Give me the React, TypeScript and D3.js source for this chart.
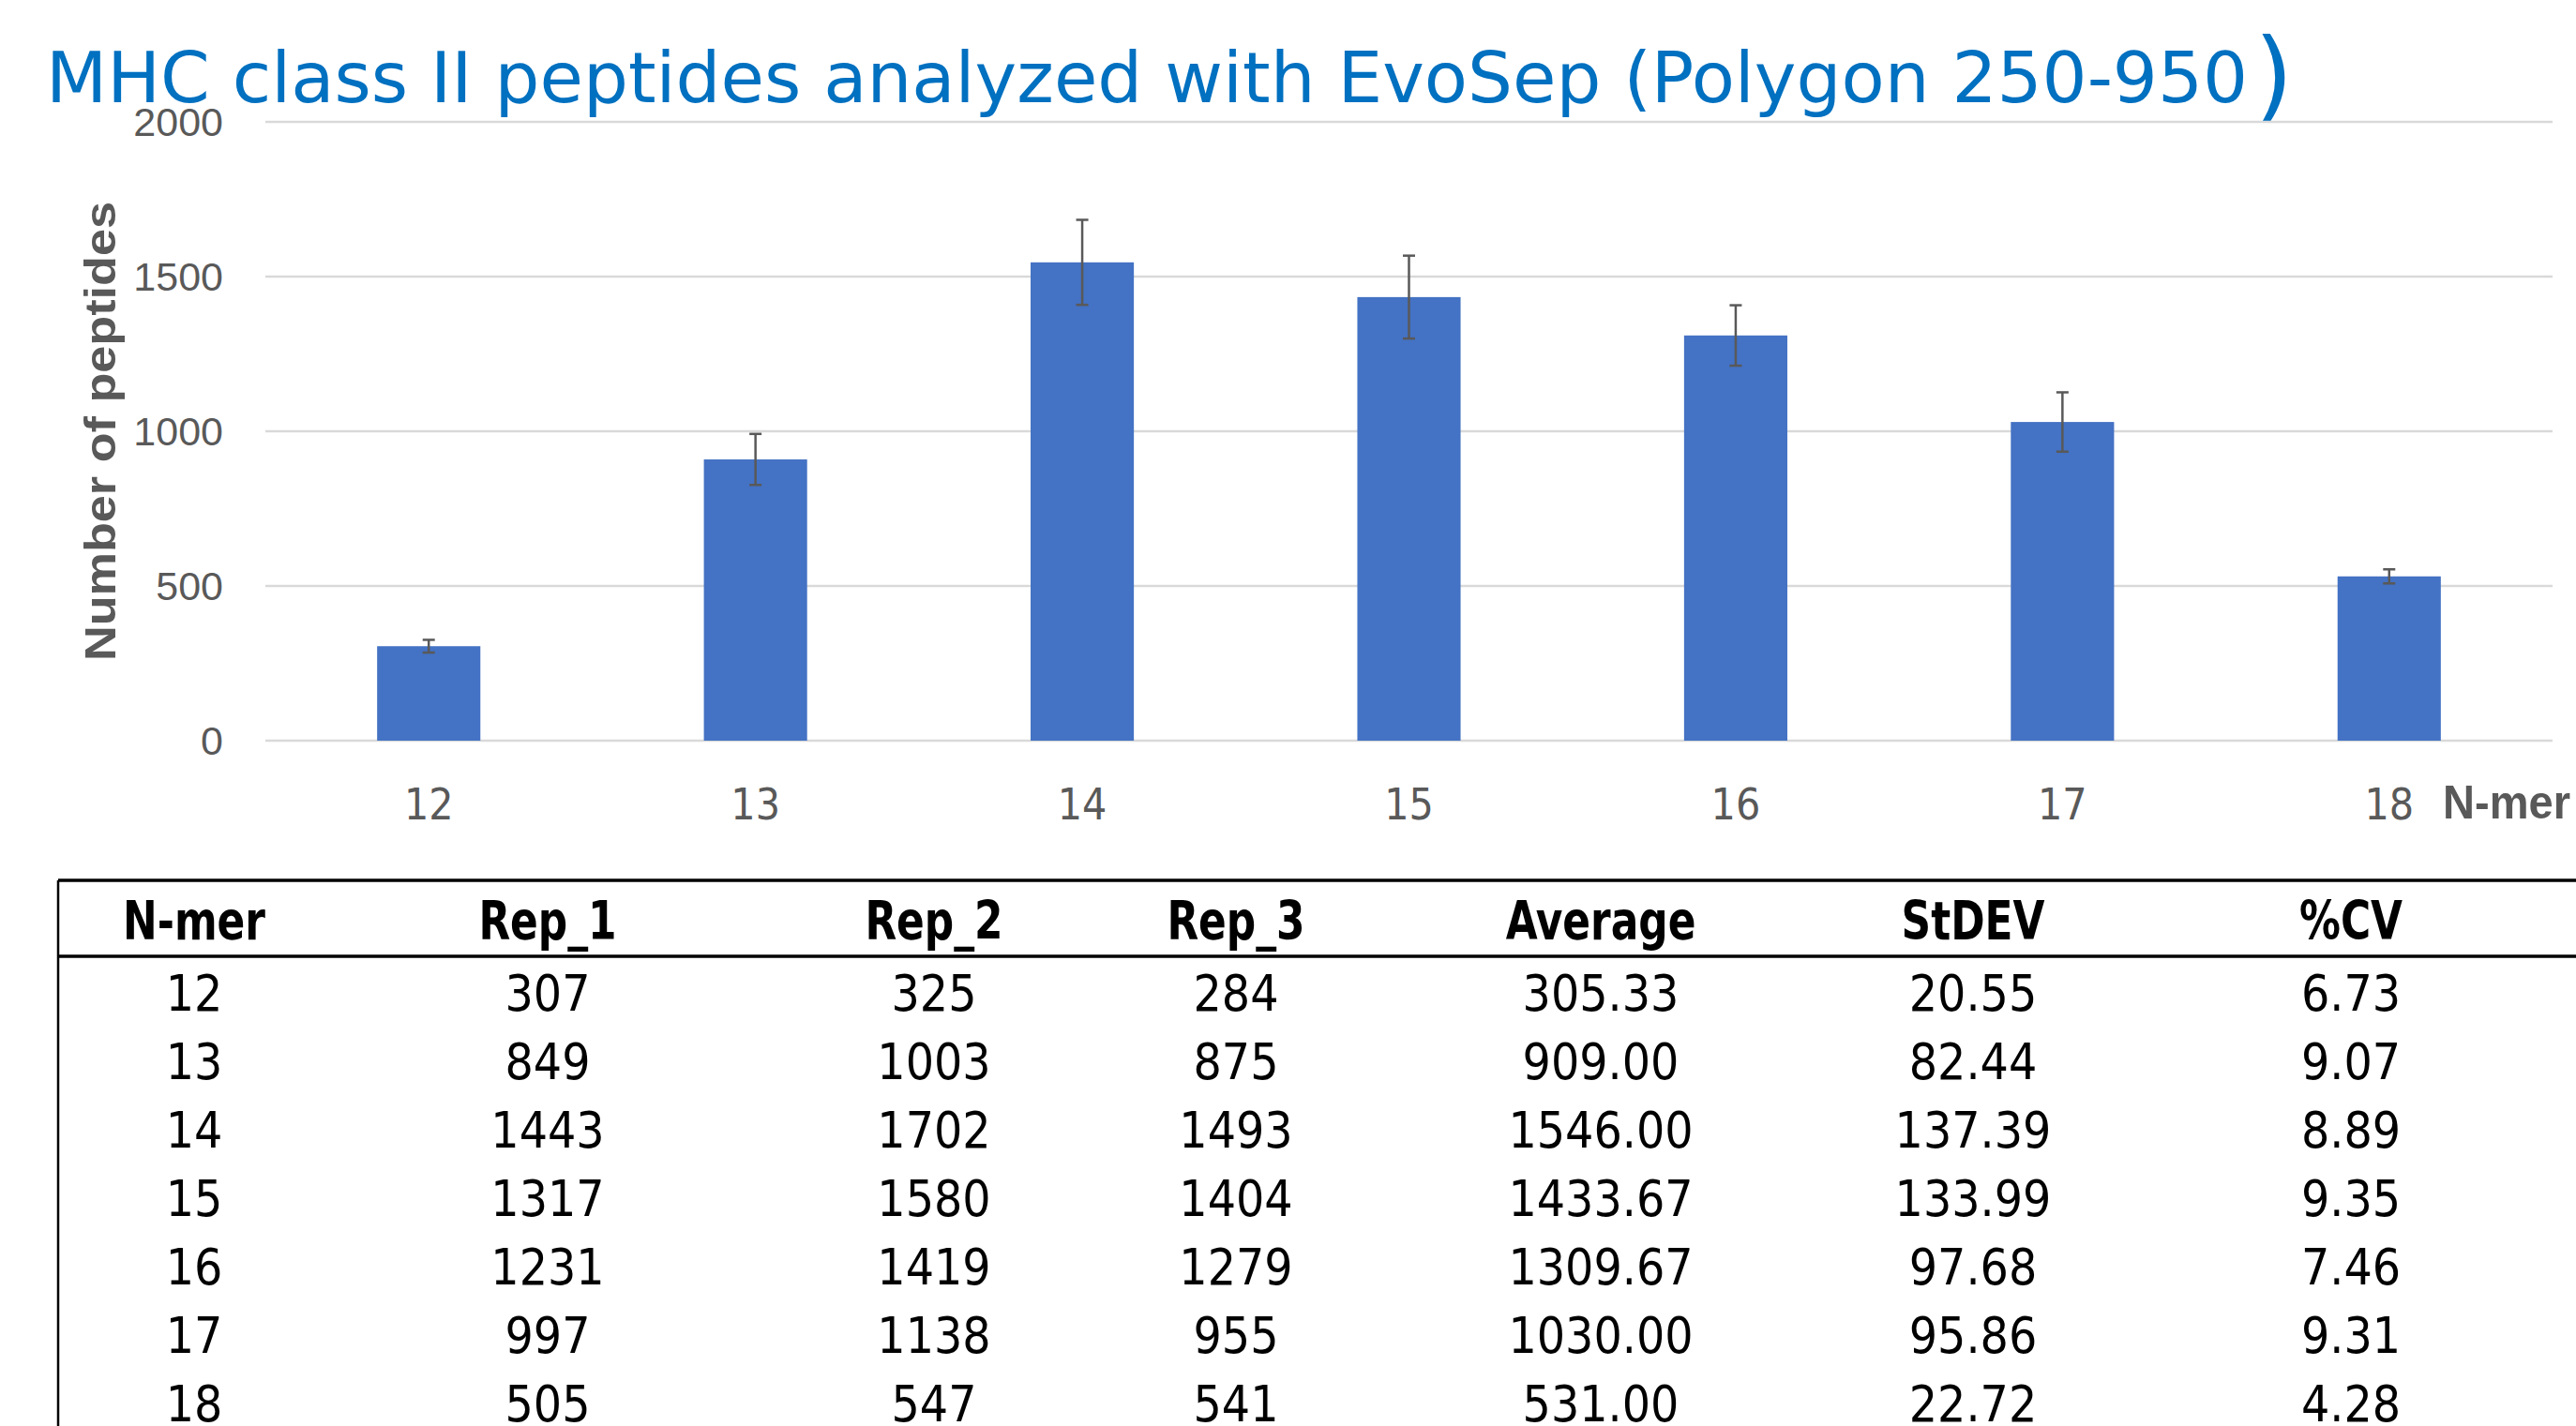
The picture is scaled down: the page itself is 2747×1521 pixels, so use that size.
import React, { useRef, useEffect } from "react";
import * as d3 from "d3";

// chart data
const nmers = ["12", "13", "14", "15", "16", "17", "18"];
const rep1 = [307, 849, 1443, 1317, 1231, 997, 505];
const rep2 = [325, 1003, 1702, 1580, 1419, 1138, 547];
const rep3 = [284, 875, 1493, 1404, 1279, 955, 541];
const average = [305.33, 909.0, 1546.0, 1433.67, 1309.67, 1030.0, 531.0];
const stdev = [20.55, 82.44, 137.39, 133.99, 97.68, 95.86, 22.72];
const cv = [6.73, 9.07, 8.89, 9.35, 7.46, 9.31, 4.28];
const yTicks = [0, 500, 1000, 1500, 2000];
const tableHeaders = ["N-mer", "Rep_1", "Rep_2", "Rep_3", "Average", "StDEV", "%CV"];

const NARROW = "'Liberation Sans Narrow', 'DejaVu Sans Condensed', 'Arial Narrow', sans-serif";
const SANS = "'Liberation Sans', Arial, sans-serif";

const App: React.FC = () => {
  const svgRef = useRef<SVGSVGElement>(null);

  useEffect(() => {
    if (!svgRef.current) return;

    const width = 2747;
    const height = 1521;
    const plot = { left: 283, right: 2722, top: 130, bottom: 790 };

    const svg = d3.select(svgRef.current).attr("width", width).attr("height", height);
    svg.selectAll("*").remove();

    svg.append("rect").attr("width", width).attr("height", height).attr("fill", "#ffffff");

    // title
    svg
      .append("text")
      .attr("x", 49)
      .attr("y", 109)
      .attr("font-family", "'DejaVu Sans', Verdana, sans-serif")
      .attr("font-size", 74)
      .attr("fill", "#0070C0")
      .attr("textLength", 2348)
      .attr("lengthAdjust", "spacingAndGlyphs")
      .text("MHC class II peptides analyzed with EvoSep (Polygon 250-950");
    svg
      .append("text")
      .attr("x", 2404)
      .attr("y", 116)
      .attr("font-family", "'DejaVu Sans', Verdana, sans-serif")
      .attr("font-size", 106)
      .attr("fill", "#0070C0")
      .text(")");

    // scales
    const x = d3
      .scaleBand<string>()
      .domain(nmers)
      .range([plot.left, plot.right])
      .paddingInner(0.684)
      .paddingOuter(0.342);
    const y = d3.scaleLinear().domain([0, 2000]).range([plot.bottom, plot.top]);

    // gridlines
    svg
      .append("g")
      .selectAll("line")
      .data(yTicks)
      .enter()
      .append("line")
      .attr("x1", plot.left)
      .attr("x2", plot.right)
      .attr("y1", (d) => y(d))
      .attr("y2", (d) => y(d))
      .attr("stroke", "#d9d9d9")
      .attr("stroke-width", 2.5);

    // y tick labels
    svg
      .append("g")
      .selectAll("text")
      .data(yTicks)
      .enter()
      .append("text")
      .attr("x", 238)
      .attr("y", (d) => y(d))
      .attr("dy", "0.36em")
      .attr("text-anchor", "end")
      .attr("font-family", SANS)
      .attr("font-size", 43)
      .attr("fill", "#595959")
      .text((d) => d);

    // y axis title
    svg
      .append("text")
      .attr("transform", `translate(123,${(plot.top + plot.bottom) / 2}) rotate(-90)`)
      .attr("text-anchor", "middle")
      .attr("font-family", SANS)
      .attr("font-weight", "bold")
      .attr("font-size", 46)
      .attr("fill", "#595959")
      .attr("textLength", 490)
      .attr("lengthAdjust", "spacingAndGlyphs")
      .text("Number of peptides");

    // bars
    svg
      .append("g")
      .selectAll("rect")
      .data(average)
      .enter()
      .append("rect")
      .attr("x", (_, i) => x(nmers[i]) ?? 0)
      .attr("y", (d) => y(d))
      .attr("width", x.bandwidth())
      .attr("height", (d) => y(0) - y(d))
      .attr("fill", "#4472C4");

    // error bars (average +/- stdev)
    const err = svg.append("g").attr("stroke", "#595959").attr("stroke-width", 2.5);
    average.forEach((avg, i) => {
      const cx = (x(nmers[i]) ?? 0) + x.bandwidth() / 2;
      const hi = y(avg + stdev[i]);
      const lo = y(avg - stdev[i]);
      err.append("line").attr("x1", cx).attr("x2", cx).attr("y1", hi).attr("y2", lo);
      err.append("line").attr("x1", cx - 6.5).attr("x2", cx + 6.5).attr("y1", hi).attr("y2", hi);
      err.append("line").attr("x1", cx - 6.5).attr("x2", cx + 6.5).attr("y1", lo).attr("y2", lo);
    });

    // x tick labels
    svg
      .append("g")
      .selectAll("text")
      .data(nmers)
      .enter()
      .append("text")
      .attr("x", (d) => (x(d) ?? 0) + x.bandwidth() / 2)
      .attr("y", 874)
      .attr("text-anchor", "middle")
      .attr("font-family", NARROW)
      .attr("font-size", 46)
      .attr("fill", "#595959")
      .text((d) => d);

    svg
      .append("text")
      .attr("x", 2605)
      .attr("y", 873)
      .attr("font-family", SANS)
      .attr("font-weight", "bold")
      .attr("font-size", 50)
      .attr("fill", "#595959")
      .attr("textLength", 136)
      .attr("lengthAdjust", "spacingAndGlyphs")
      .text("N-mer");

    // table
    const colX = [207, 584, 996, 1318, 1707, 2104, 2507];
    const rowY = d3.scalePoint<string>().domain(nmers).range([1078, 1516]);
    const table = svg.append("g");

    table.append("line").attr("x1", 62).attr("x2", width).attr("y1", 939).attr("y2", 939)
      .attr("stroke", "#000").attr("stroke-width", 3.5);
    table.append("line").attr("x1", 62).attr("x2", width).attr("y1", 1020).attr("y2", 1020)
      .attr("stroke", "#000").attr("stroke-width", 3.5);
    table.append("line").attr("x1", 62).attr("x2", 62).attr("y1", 939).attr("y2", height)
      .attr("stroke", "#000").attr("stroke-width", 2.5);

    // header cells are a bit narrower than the bold condensed face
    table
      .selectAll("text.head")
      .data(tableHeaders)
      .enter()
      .append("text")
      .attr("class", "head")
      .attr("transform", (_, i) => `translate(${colX[i]},1002) scale(0.87,1)`)
      .attr("text-anchor", "middle")
      .attr("font-family", NARROW)
      .attr("font-weight", "bold")
      .attr("font-size", 56)
      .attr("fill", "#000")
      .text((d) => d);

    const rows = nmers.map((n, i) => [
      n,
      String(rep1[i]),
      String(rep2[i]),
      String(rep3[i]),
      average[i].toFixed(2),
      stdev[i].toFixed(2),
      cv[i].toFixed(2),
    ]);

    rows.forEach((row, r) => {
      table
        .append("g")
        .selectAll("text")
        .data(row)
        .enter()
        .append("text")
        .attr("x", (_, i) => colX[i])
        .attr("y", rowY(nmers[r]) ?? 0)
        .attr("text-anchor", "middle")
        .attr("font-family", NARROW)
        .attr("font-size", 53)
        .attr("fill", "#000")
        .text((d) => d);
    });
  }, []);

  return <svg ref={svgRef} style={{ position: "absolute", left: 0, top: 0 }}></svg>;
};

export default App;
